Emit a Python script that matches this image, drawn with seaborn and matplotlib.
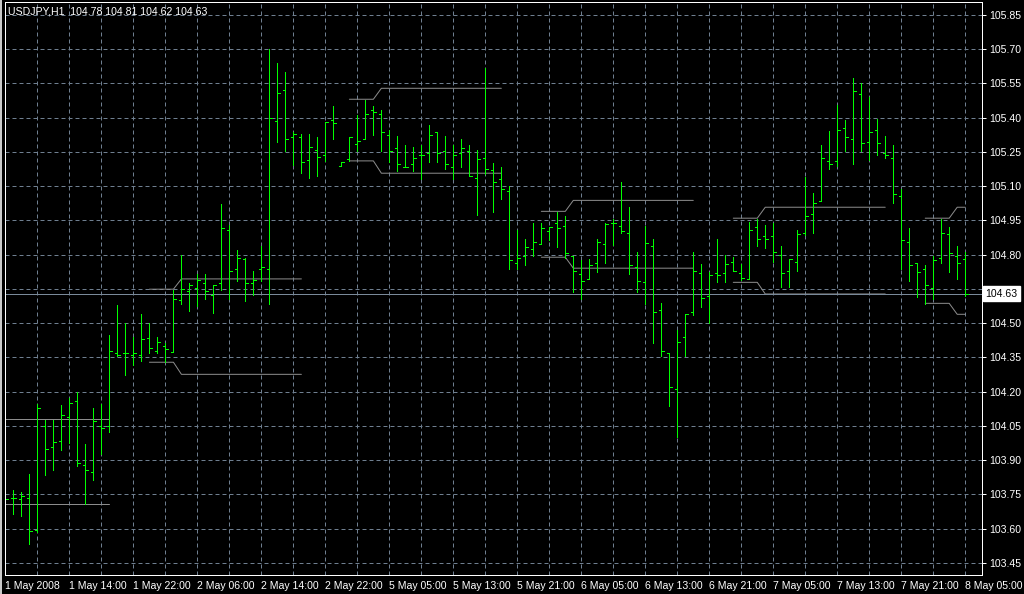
import numpy as np
import pandas as pd
import matplotlib.pyplot as plt
import seaborn as sns
from matplotlib.patches import Rectangle
from matplotlib.transforms import blended_transform_factory

# USDJPY H1 bars (open, high, low, close)
opens = [103.728, 103.736, 103.728, 103.736, 103.596, 104.048, 103.956, 103.986, 104.087, 104.159,
         103.877, 103.846, 104.049, 104.048, 104.368, 104.368, 104.360, 104.360, 104.437, 104.377,
         104.398, 104.376, 104.600, 104.639, 104.654, 104.676, 104.625, 104.677, 104.907, 104.739,
         104.781, 104.677, 104.736, 104.739, 105.387, 105.520, 105.317, 105.317, 105.217, 105.258,
         105.238, 105.388, 105.187, 105.218, 105.287, 105.309, 105.436, 105.418, 105.326, 105.269,
         105.184, 105.199, 105.238, 105.247, 105.339, 105.256, 105.186, 105.247, 105.256, 105.137,
         105.225, 105.171, 105.131, 105.077, 104.765, 104.796, 104.826, 104.848, 104.905, 104.938,
         104.927, 104.796, 104.717, 104.695, 104.765, 104.848, 104.938, 104.927, 104.897, 104.747,
         104.680, 104.838, 104.557, 104.368, 104.211, 104.440, 104.548, 104.720, 104.619, 104.720,
         104.720, 104.768, 104.720, 104.695, 104.922, 104.881, 104.881, 104.799, 104.730, 104.768,
         104.896, 104.977, 105.036, 105.209, 105.209, 105.357, 105.309, 105.506, 105.295, 105.348,
         105.247, 105.225, 105.058, 104.857, 104.764, 104.738, 104.655, 104.786, 104.890, 104.795,
         104.780]
highs = [103.777, 103.768, 103.760, 103.839, 104.146, 104.076, 104.076, 104.142, 104.172, 104.199,
         103.970, 104.128, 104.146, 104.449, 104.580, 104.500, 104.440, 104.541, 104.500, 104.440,
         104.414, 104.647, 104.797, 104.677, 104.717, 104.717, 104.669, 105.021, 104.932, 104.819,
         104.787, 104.727, 104.837, 105.700, 105.639, 105.599, 105.339, 105.327, 105.327, 105.317,
         105.380, 105.451, 105.208, 105.317, 105.411, 105.477, 105.451, 105.436, 105.348, 105.319,
         105.279, 105.271, 105.279, 105.367, 105.339, 105.319, 105.279, 105.309, 105.279, 105.257,
         105.616, 105.200, 105.186, 105.100, 104.907, 104.867, 104.938, 104.938, 104.922, 104.987,
         104.968, 104.796, 104.775, 104.780, 104.867, 104.938, 104.958, 105.118, 105.009, 104.812,
         104.927, 104.870, 104.588, 104.368, 104.471, 104.540, 104.813, 104.761, 104.724, 104.870,
         104.799, 104.791, 104.759, 104.942, 104.958, 104.932, 104.941, 104.838, 104.781, 104.908,
         105.140, 105.069, 105.279, 105.341, 105.458, 105.389, 105.576, 105.550, 105.489, 105.396,
         105.319, 105.279, 105.089, 104.918, 104.764, 104.757, 104.795, 104.955, 104.921, 104.836,
         104.810]
lows = [103.673, 103.665, 103.656, 103.533, 103.586, 103.836, 103.856, 103.944, 103.976, 103.875,
        103.706, 103.812, 103.925, 104.025, 104.355, 104.275, 104.319, 104.336, 104.368, 104.368,
        104.329, 104.376, 104.585, 104.553, 104.575, 104.607, 104.544, 104.647, 104.607, 104.685,
        104.597, 104.625, 104.685, 104.585, 105.295, 105.255, 105.195, 105.156, 105.138, 105.146,
        105.212, 105.307, 105.187, 105.211, 105.253, 105.307, 105.323, 105.254, 105.206, 105.165,
        105.184, 105.165, 105.133, 105.206, 105.206, 105.175, 105.133, 105.184, 105.145, 104.975,
        105.155, 104.988, 105.046, 104.736, 104.736, 104.753, 104.796, 104.848, 104.863, 104.834,
        104.787, 104.638, 104.607, 104.695, 104.725, 104.765, 104.843, 104.897, 104.715, 104.638,
        104.584, 104.415, 104.358, 104.139, 104.003, 104.358, 104.538, 104.569, 104.500, 104.679,
        104.679, 104.730, 104.689, 104.695, 104.837, 104.828, 104.768, 104.657, 104.657, 104.727,
        104.887, 104.895, 105.036, 105.175, 105.187, 105.254, 105.197, 105.254, 105.216, 105.237,
        105.225, 105.026, 104.738, 104.684, 104.614, 104.584, 104.605, 104.763, 104.723, 104.693,
        104.620]
closes = [103.728, 103.736, 103.745, 103.589, 104.127, 103.947, 103.978, 104.096, 104.149, 103.886,
          103.859, 104.070, 104.041, 104.377, 104.360, 104.368, 104.368, 104.430, 104.390, 104.417,
          104.388, 104.607, 104.650, 104.669, 104.688, 104.639, 104.669, 104.919, 104.727, 104.787,
          104.677, 104.688, 104.746, 105.397, 105.507, 105.309, 105.327, 105.208, 105.270, 105.226,
          105.380, 105.379, 105.208, 105.317, 105.297, 105.418, 105.427, 105.339, 105.256, 105.199,
          105.184, 105.225, 105.238, 105.326, 105.247, 105.199, 105.238, 105.269, 105.145, 105.218,
          105.177, 105.117, 105.087, 104.778, 104.787, 104.835, 104.857, 104.916, 104.922, 104.919,
          104.809, 104.727, 104.686, 104.756, 104.857, 104.933, 104.938, 104.905, 104.756, 104.686,
          104.851, 104.548, 104.377, 104.219, 104.417, 104.540, 104.730, 104.611, 104.711, 104.711,
          104.759, 104.730, 104.698, 104.908, 104.870, 104.870, 104.813, 104.720, 104.781, 104.892,
          104.968, 105.028, 105.225, 105.199, 105.348, 105.317, 105.519, 105.288, 105.339, 105.288,
          105.238, 105.067, 104.865, 104.757, 104.725, 104.668, 104.778, 104.896, 104.808, 104.764,
          104.630]

# session range indicator: start bar, upper level before/after, lower level before/after
sess_start = [-6, 18, 43, 67, 91, 115]
upper_pre = [104.081, 104.649, 105.481, 104.990, 104.960, 104.960]
upper_post = [104.081, 104.694, 105.529, 105.038, 105.008, 105.008]
lower_pre = [103.708, 104.329, 105.211, 104.789, 104.679, 104.587]
lower_post = [103.708, 104.276, 105.157, 104.741, 104.628, 104.539]

time_labels = ['1 May 2008', '1 May 14:00', '1 May 22:00', '2 May 06:00', '2 May 14:00',
               '2 May 22:00', '5 May 05:00', '5 May 13:00', '5 May 21:00', '6 May 05:00',
               '6 May 13:00', '6 May 21:00', '7 May 05:00', '7 May 13:00', '7 May 21:00',
               '8 May 05:00']
price_ticks = [103.45, 103.60, 103.75, 103.90, 104.05, 104.20, 104.35, 104.50, 104.65,
               104.80, 104.95, 105.10, 105.25, 105.40, 105.55, 105.70, 105.85]
last_price = 104.63
title = 'USDJPY,H1  104.78 104.81 104.62 104.63'

sns.set_style('dark', {'axes.facecolor': 'black', 'figure.facecolor': 'black'})
plt.rcParams['font.family'] = ['Liberation Sans', 'DejaVu Sans']

W, H = 1024, 594
fig = plt.figure(figsize=(W / 100, H / 100), dpi=100)
ax = fig.add_axes([5 / W, 1 - 575 / H, 977 / W, 573 / H])
ax.set_facecolor('black')

n = len(opens)
idx = np.arange(n)
last = n - 1
px = 0.72  # one pixel in points
fs = 7.6

# grid
grid_col = '#6f7f90'
ax.set_xticks(idx[::8])
ax.set_xticks(idx[4::8], minor=True)
ax.set_yticks(price_ticks)
ax.grid(True, which='both', axis='x', color=grid_col, linestyle=(0, (4, 3)), linewidth=px)
ax.grid(True, which='major', axis='y', color=grid_col, linestyle=(0, (4, 3)), linewidth=px)
ax.set_axisbelow(True)

# session levels
rows = []
for k, a in enumerate(sess_start):
    b = min(a + 19, last)
    xs = [a, a + 3, a + 4, b]
    for name, pre, post in (('u', upper_pre[k], upper_post[k]), ('l', lower_pre[k], lower_post[k])):
        for x, y in zip(xs, [pre, pre, post, post]):
            rows.append({'x': x, 'y': y, 'seg': f'{name}{k}'})
lv = pd.DataFrame(rows)
sns.lineplot(data=lv, x='x', y='y', units='seg', estimator=None, sort=False,
             color='#8c8c8c', linewidth=px, legend=False, ax=ax)

# current price line
ax.axhline(last_price, color='#7a8a9a', linewidth=px, antialiased=False)

# OHLC bars
bar_col = '#00ff00'
ax.vlines(idx, lows, highs, color=bar_col, linewidth=px, antialiased=False)
ax.hlines(opens, idx - 0.32, idx, color=bar_col, linewidth=px, antialiased=False)
ax.hlines(closes, idx, idx + 0.32, color=bar_col, linewidth=px, antialiased=False)

ax.set_xlim(-0.06, 122.1)
ax.set_ylim(103.397, 105.907)
ax.set_xlabel('')
ax.set_ylabel('')

# the 104.65 label sits under the last-price box
ylabels = ['' if abs(v - 104.65) < 1e-6 else f'{v:.2f}' for v in price_ticks]
ax.set_xticklabels(time_labels, ha='left')
ax.set_yticklabels(ylabels)
ax.yaxis.tick_right()
ax.tick_params(axis='x', which='major', direction='out', length=3, width=px, color='white',
               labelcolor='white', labelsize=fs, pad=1.5)
ax.tick_params(axis='x', which='minor', length=0)
ax.tick_params(axis='y', direction='out', length=3, width=px, color='white',
               labelcolor='white', labelsize=fs, pad=2, left=False, right=True,
               labelleft=False, labelright=True)
for sp in ax.spines.values():
    sp.set_visible(True)
    sp.set_color('white')
    sp.set_linewidth(px)

# last price label
tr = blended_transform_factory(ax.transAxes, ax.transData)
ax.text(1.0035, last_price, f'{last_price:.2f}', transform=tr, color='black', fontsize=fs,
        va='center', ha='left', clip_on=False,
        bbox=dict(boxstyle='square,pad=0.2', facecolor='white', edgecolor='white'))

ax.text(3 / 977, 1 - 9 / 573, title, transform=ax.transAxes, color='white',
        fontsize=fs, va='center', ha='left')

fig.patches.append(Rectangle((0, 0), 2 / W, 1, transform=fig.transFigure,
                             facecolor='#c8c8c8', edgecolor='none'))

fig.savefig('out.png', dpi=100, facecolor='black')
plt.close(fig)
